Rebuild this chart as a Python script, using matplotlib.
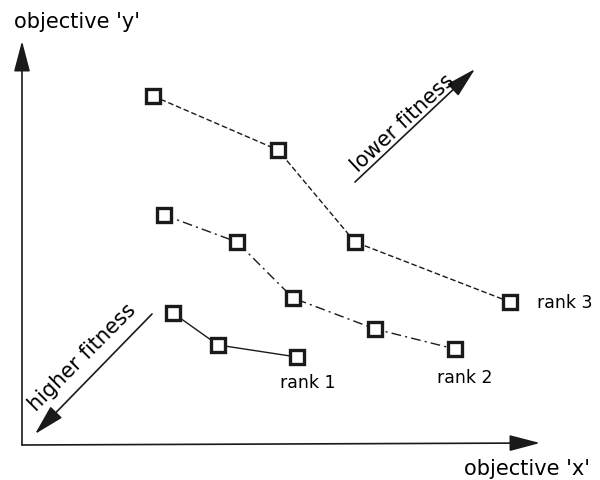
import matplotlib.pyplot as plt

# points measured from the axis corner (x right, y up)
rank3_x = [131, 256, 333, 488]
rank3_y = [349, 295, 203, 143]
rank2_x = [142, 215, 271, 353, 433]
rank2_y = [230, 203, 147, 116, 96]
rank1_x = [151, 196, 275]
rank1_y = [132, 100, 88]

fig = plt.figure(figsize=(6, 4.81), dpi=100)
ax = fig.add_axes([0, 0, 1, 1])
ax.set_xlim(-22, 578)
ax.set_ylim(-35, 446)
ax.axis('off')

mk = dict(marker='s', markersize=10, markerfacecolor='white',
          markeredgecolor='#1a1a1a', markeredgewidth=2.4, color='#1a1a1a', lw=1.0)
ax.plot(rank3_x, rank3_y, linestyle=(0, (4, 2)), **mk)
ax.plot(rank2_x, rank2_y, linestyle=(0, (7, 3, 1.5, 3)), **mk)
ax.plot(rank1_x, rank1_y, linestyle='-', **mk)

# axes with arrow heads
arr = dict(arrowstyle='-|>,head_length=1.9,head_width=0.5', color='#1a1a1a', lw=1.2,
           shrinkA=0, shrinkB=0)
ax.annotate('', xy=(0, 404), xytext=(0, 0), arrowprops=arr)
ax.annotate('', xy=(518, 2), xytext=(0, 0), arrowprops=arr)

ax.text(-8, 418, "objective 'y'", fontsize=15, ha='left', va='baseline')
ax.text(568, -29, "objective 'x'", fontsize=15, ha='right', va='baseline')

ax.text(515, 143, 'rank 3', fontsize=12.5, ha='left', va='center')
ax.text(415, 68, 'rank 2', fontsize=12.5, ha='left', va='center')
ax.text(258, 63, 'rank 1', fontsize=12.5, ha='left', va='center')

# fitness arrows
ax.annotate('', xy=(453, 376), xytext=(333, 263), arrowprops=arr)
ax.text(381, 323, 'lower fitness', fontsize=15, rotation=43,
        ha='center', va='center', rotation_mode='anchor')
ax.annotate('', xy=(13, 11), xytext=(130, 131), arrowprops=arr)
ax.text(60, 88, 'higher fitness', fontsize=15, rotation=45,
        ha='center', va='center', rotation_mode='anchor')

fig.savefig('out.png', dpi=100)
